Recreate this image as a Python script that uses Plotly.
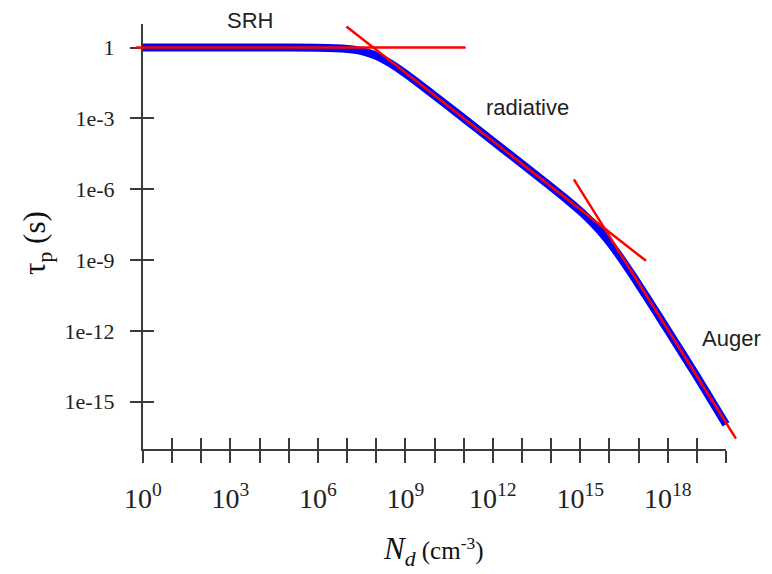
import plotly.graph_objects as go

# ---- data ----
nd_curve = [1e0, 1e1, 1e2, 1e3, 1e4, 1e5, 1e6, 1e7, 1.78e7, 3.16e7, 5.62e7, 1e8,
            1.78e8, 3.16e8, 1e9, 1e10, 1e11, 1e12, 1e13, 1e14, 3.16e14, 1e15,
            1.78e15, 3.16e15, 5.62e15, 1e16, 1.78e16, 3.16e16, 5.62e16, 1e17,
            3.16e17, 1e18, 1e19, 1e20]
tau_curve = [1.0, 1.0, 1.0, 1.0, 1.0, 1.0, 0.986, 0.881, 0.810, 0.710, 0.583, 0.446,
             0.315, 0.209, 0.080, 9.31e-3, 1.02e-3, 1.10e-4, 1.19e-5, 1.26e-6, 4.01e-7,
             1.19e-7, 6.13e-8, 2.99e-8, 1.35e-8, 5.64e-9, 2.18e-9, 7.93e-10, 2.76e-10,
             9.31e-11, 1.02e-11, 1.08e-12, 1.19e-14, 1.10e-16]

srh_x = [0.575, 1.17e11]
srh_y = [1.0, 1.0]
rad_x = [9.5e6, 1.8e17]
rad_y = [7.76, 9.33e-10]
aug_x = [6.03e14, 2.19e20]
aug_y = [2.63e-6, 2.75e-17]

x_tickvals = [10.0 ** k for k in range(0, 21)]
x_ticktext = ["10<sup>%d</sup>" % k if (k % 3 == 0 and k <= 18) else "" for k in range(0, 21)]
y_tickvals = [1, 1e-3, 1e-6, 1e-9, 1e-12, 1e-15]
y_ticktext = ["1", "1e-3", "1e-6", "1e-9", "1e-12", "1e-15"]

labels = ["SRH", "radiative", "Auger"]

# ---- layout geometry (pixels) ----
W, H = 772, 574
ML, MR, MT, MB = 100, 20, 10, 100
PW, PH = W - ML - MR, H - MT - MB
X0, X1 = 143, 726      # plot area left/right px
Y0, Y1 = 24, 449       # plot area top/bottom px
XR = [0, 20]
YR = [-17, 1]

def fx(px):
    return (px - ML) / PW

def fy(py):
    return (H - MB - py) / PH

xdom = [fx(X0), fx(X1)]
ydom = [fy(Y1), fy(Y0)]
ppd = (X1 - X0) / (XR[1] - XR[0])
XR2 = [-0.3, 20.4]
xdom2 = [fx(X0 + (XR2[0] - XR[0]) * ppd), fx(X1 + (XR2[1] - XR[1]) * ppd)]

AX = "#3a3a3a"
SERIF = "Liberation Serif"
SANS = "Liberation Sans"

fig = go.Figure()
fig.add_trace(go.Scatter(x=nd_curve, y=tau_curve, mode="lines",
                         line=dict(color="#0000ff", width=8, shape="spline", smoothing=0.6),
                         xaxis="x2", yaxis="y", hoverinfo="skip", showlegend=False))
for xs, ys in [(srh_x, srh_y), (rad_x, rad_y), (aug_x, aug_y)]:
    fig.add_trace(go.Scatter(x=xs, y=ys, mode="lines",
                             line=dict(color="#ff0000", width=2.5), xaxis="x2", yaxis="y",
                             hoverinfo="skip", showlegend=False))
# invisible traces to carry the main and inner-tick axes
fig.add_trace(go.Scatter(x=nd_curve, y=tau_curve, mode="lines", opacity=0,
                         line=dict(width=0), xaxis="x", yaxis="y",
                         hoverinfo="skip", showlegend=False))
fig.add_trace(go.Scatter(x=nd_curve, y=tau_curve, mode="lines", opacity=0,
                         line=dict(width=0), xaxis="x3", yaxis="y3",
                         hoverinfo="skip", showlegend=False))

fig.update_layout(
    width=W, height=H,
    margin=dict(l=ML, r=MR, t=MT, b=MB),
    paper_bgcolor="white", plot_bgcolor="rgba(0,0,0,0)",
    showlegend=False,
    xaxis=dict(type="log", range=XR, domain=xdom, anchor="y",
               showline=True, linecolor=AX, linewidth=2,
               ticks="outside", ticklen=12, tickwidth=2, tickcolor=AX,
               tickmode="array", tickvals=x_tickvals, ticktext=x_ticktext,
               tickangle=0,
               tickfont=dict(family=SERIF, size=28, color="#222"),
               ticklabelstandoff=11,
               showgrid=False, zeroline=False),
    xaxis2=dict(type="log", range=XR2, domain=xdom2, anchor="y", visible=False),
    xaxis3=dict(type="log", range=XR, overlaying="x", anchor="y3",
                ticks="inside", ticklen=11, tickwidth=2, tickcolor=AX,
                tickmode="array", tickvals=x_tickvals, showticklabels=False,
                showline=False, showgrid=False, zeroline=False),
    yaxis=dict(type="log", range=YR, domain=ydom, anchor="x",
               showline=True, linecolor=AX, linewidth=2,
               ticks="outside", ticklen=11, tickwidth=2, tickcolor=AX,
               tickmode="array", tickvals=y_tickvals, ticktext=y_ticktext,
               tickfont=dict(family=SERIF, size=22, color="#222"),
               ticklabelstandoff=11,
               showgrid=False, zeroline=False),
    yaxis3=dict(type="log", range=YR, overlaying="y", anchor="x3",
                ticks="inside", ticklen=11, tickwidth=2, tickcolor=AX,
                tickmode="array", tickvals=y_tickvals, showticklabels=False,
                showline=False, showgrid=False, zeroline=False),
)

ann = [
    dict(text=labels[0], x=fx(250), y=fy(20), font=dict(family=SANS, size=22, color="#222")),
    dict(text=labels[1], x=fx(527), y=fy(108), font=dict(family=SANS, size=22, color="#222")),
    dict(text=labels[2], x=fx(731), y=fy(338), font=dict(family=SANS, size=22, color="#222")),
    dict(text="τ<sub>p</sub> (s)", x=fx(37), y=fy(243), textangle=-90,
         font=dict(family=SERIF, size=31, color="#111")),
    dict(text="<i>N</i><sub><i>d</i></sub><span style='font-size:25px'> (cm<sup>-3</sup>)</span>",
         x=fx(433), y=fy(551), font=dict(family=SERIF, size=31, color="#111")),
]
for a in ann:
    a.update(xref="paper", yref="paper", showarrow=False, xanchor="center", yanchor="middle")
fig.update_layout(annotations=ann)

fig.write_html("out.html", config={"displayModeBar": False},
               post_script="document.body.style.margin='0';")
